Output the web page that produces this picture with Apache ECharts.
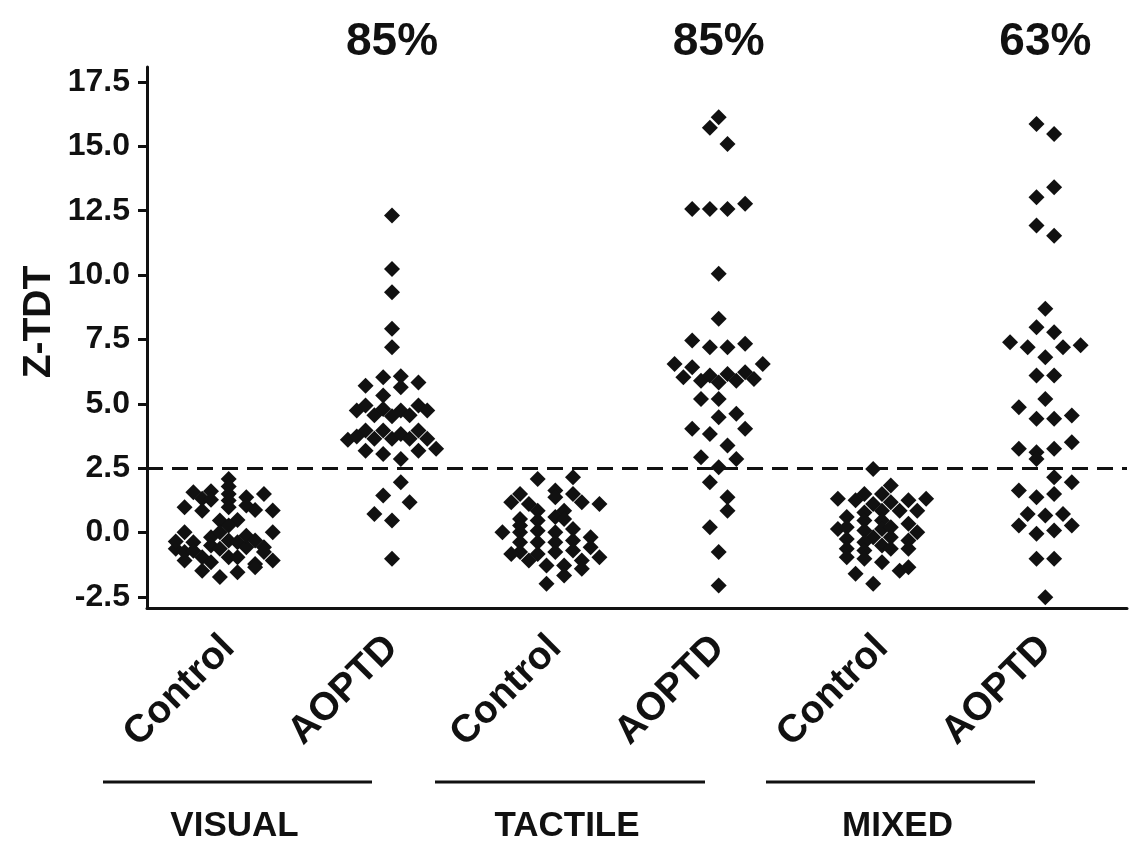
<!DOCTYPE html>
<html>
<head>
<meta charset="utf-8">
<script src="https://cdn.jsdelivr.net/npm/echarts@6/dist/echarts.min.js"></script>
<style>
  html, body { margin: 0; padding: 0; background: #ffffff; }
  #chart { width: 1129px; height: 844px; }
</style>
</head>
<body>
<div id="chart"></div>
<script>
// Z-TDT scores per group; each point is [column slot, value].
// The slot is the point's horizontal place in the dot column (0 = centre).
const categories = ['Control', 'AOPTD', 'Control', 'AOPTD', 'Control', 'AOPTD'];
const groupNames = ['VISUAL', 'TACTILE', 'MIXED'];
const percentLabels = ['85%', '85%', '63%'];
const yTicks = [-2.5, 0, 2.5, 5, 7.5, 10, 12.5, 15, 17.5];
const cutoff = 2.5;

const visualControl = [
  [0, 2.08], [0, 1.79], [0, 1.50], [0, 1.24], [0, 0.98],
  [-4, 1.57], [-2, 1.60], [-3, 1.31], [-2, 1.27], [-5, 0.98], [-3, 0.85],
  [2, 1.37], [4, 1.50], [2, 1.05], [3, 0.88], [5, 0.86],
  [-1, 0.47], [1, 0.49], [0, 0.27],
  [-5, 0.01], [-6, -0.63], [-4, -0.38], [-5, -0.76], [-5, -1.09], [-4, -0.71],
  [-3, -0.96], [-2, -0.18], [-1, 0.01], [-2, -0.50], [-1, -0.63], [0, -0.31],
  [1, -0.38], [2, -0.57], [2, -0.12], [3, -0.31], [4, -0.57], [4, -0.76],
  [5, 0.01], [5, -1.09], [-2, -1.15], [0, -0.96], [1, -0.96], [3, -1.22],
  [-3, -1.48], [-1, -1.73], [1, -1.54], [3, -1.35], [-6, -0.35]
];

const visualAoptd = [
  [0, 12.31], [0, 10.24], [0, 9.33], [0, 7.91], [0, 7.20],
  [-1, 6.03], [1, 6.07], [1, 5.64], [3, 5.83], [-3, 5.70], [-1, 5.32],
  [-4, 4.74], [-3, 4.93], [-2, 4.56], [-1, 4.80], [0, 4.52], [1, 4.74],
  [2, 4.56], [3, 4.93], [4, 4.74],
  [-3, 3.96], [-1, 3.96], [0, 3.64], [1, 3.83], [2, 3.64], [3, 3.96],
  [-5, 3.60], [-4, 3.73], [-2, 3.64], [4, 3.64],
  [-3, 3.18], [-1, 3.05], [3, 3.18], [5, 3.25], [1, 2.86],
  [1, 1.95], [-1, 1.44], [2, 1.18], [-2, 0.72], [0, 0.47], [0, -1.02]
];

const tactileControl = [
  [-2, 2.08], [2, 2.15], [0, 1.63], [0, 1.37], [2, 1.50], [-4, 1.50],
  [-5, 1.18], [-3, 1.11], [-2, 0.85], [1, 0.85], [3, 1.18], [5, 1.11],
  [-4, 0.53], [-2, 0.47], [0, 0.60], [1, 0.53], [2, 0.14], [-4, 0.01],
  [-6, 0.01], [-2, 0.07], [0, 0.01], [4, -0.18], [-4, -0.38], [-2, -0.38],
  [0, -0.38], [2, -0.31], [4, -0.57], [-4, -0.76], [-2, -0.83], [0, -0.76],
  [2, -0.70], [-5, -0.83], [5, -0.96], [-3, -1.09], [-1, -1.28], [1, -1.28],
  [3, -1.09], [3, -1.41], [1, -1.67], [-1, -1.99], [-4, 0.27]
];

const tactileAoptd = [
  [0, 16.13], [-1, 15.72], [1, 15.09],
  [-3, 12.57], [-1, 12.57], [1, 12.57], [3, 12.77],
  [0, 10.05], [0, 8.30],
  [-3, 7.46], [-1, 7.20], [1, 7.20], [3, 7.33],
  [-5, 6.55], [-3, 6.42], [5, 6.55], [-4, 6.03], [-2, 5.90], [-1, 6.10],
  [0, 5.83], [1, 6.16], [2, 5.90], [3, 6.23], [4, 5.96],
  [-2, 5.19], [0, 5.19], [0, 4.48], [2, 4.61], [-3, 4.03], [-1, 3.83],
  [3, 4.03], [1, 3.38], [-2, 2.92], [2, 2.86], [0, 2.54], [-1, 1.95],
  [1, 1.37], [1, 0.85], [-1, 0.21], [0, -0.76], [0, -2.06]
];

const mixedControl = [
  [-1, 2.47], [1, 1.83], [-5, 1.31], [-3, 1.25], [-2, 1.50], [0, 1.50],
  [-1, 1.11], [1, 1.18], [3, 1.25], [5, 1.31], [2, 0.85], [4, 0.85],
  [-2, 0.78], [0, 0.85], [-4, 0.60], [-5, 0.14], [-4, 0.21], [-2, 0.47],
  [-2, 0.08], [0, 0.47], [0, 0.14], [-1, -0.18], [1, 0.21], [1, -0.18],
  [3, 0.34], [4, 0.01], [-4, -0.25], [-2, -0.38], [-4, -0.63], [-2, -0.70],
  [0, -0.50], [1, -0.63], [3, -0.31], [3, -0.63], [-4, -0.96], [-2, -1.02],
  [0, -1.15], [2, -1.48], [3, -1.35], [-3, -1.60], [-1, -1.99]
];

const mixedAoptd = [
  [-1, 15.87], [1, 15.48], [1, 13.41], [-1, 13.02], [-1, 11.92], [1, 11.53],
  [0, 8.69], [-1, 7.97], [1, 7.78], [-4, 7.39], [-2, 7.20], [2, 7.20],
  [4, 7.27], [0, 6.81], [-1, 6.10], [1, 6.10], [0, 5.19], [-3, 4.87],
  [-1, 4.42], [1, 4.42], [3, 4.55], [-3, 3.25], [-1, 3.12], [-1, 2.86],
  [1, 3.25], [3, 3.51], [1, 2.15], [3, 1.95], [-3, 1.63], [-1, 1.37],
  [1, 1.50], [-2, 0.72], [0, 0.66], [2, 0.72], [-3, 0.27], [-1, -0.05],
  [1, 0.08], [3, 0.27], [-1, -1.02], [1, -1.02], [0, -2.51]
];

const groups = [visualControl, visualAoptd, tactileControl, tactileAoptd, mixedControl, mixedAoptd];

// width of one dot column slot, in category units
const slotWidth = 0.054;
const ink = '#111111';
const fontFamily = '"Liberation Sans", Arial, Helvetica, sans-serif';

const points = [];
groups.forEach((g, i) => {
  g.forEach(([slot, v]) => points.push([i + 1 + slot * slotWidth, v]));
});

const topLabels = categories.map((c, i) => (i % 2 === 1 ? percentLabels[(i - 1) / 2] : ''));

const chart = echarts.init(document.getElementById('chart'), null, { renderer: 'canvas' });

// group underlines and names below the category labels
const groupLines = [[103, 372], [435, 705], [766, 1035]];
const graphics = [];
groupLines.forEach(([x1, x2], g) => {
  graphics.push({
    type: 'line',
    shape: { x1: x1, y1: 782, x2: x2, y2: 782 },
    style: { stroke: ink, lineWidth: 3 }
  });
  graphics.push({
    type: 'text',
    x: (x1 + x2) / 2 - 3,
    y: 826,
    style: {
      text: groupNames[g], fill: ink, font: 'bold 35px ' + fontFamily,
      align: 'center', verticalAlign: 'middle'
    }
  });
});
graphics.push({
  type: 'text',
  x: 39,
  y: 322,
  rotation: Math.PI / 2,
  style: {
    text: 'Z-TDT', fill: ink, font: 'bold 39px ' + fontFamily,
    align: 'center', verticalAlign: 'middle'
  }
});

chart.setOption({
  backgroundColor: '#ffffff',
  animation: false,
  grid: { left: 147, right: 2, top: 67, bottom: 236, containLabel: false },
  xAxis: [
    {
      type: 'category',
      data: categories,
      position: 'bottom',
      boundaryGap: true,
      axisLine: { onZero: false, lineStyle: { color: ink, width: 3 } },
      axisTick: { alignWithLabel: true, length: 8, lineStyle: { color: ink, width: 3 } },
      axisLabel: {
        rotate: 45, margin: 34, color: ink, fontSize: 39, fontWeight: 'bold',
        fontFamily: fontFamily, interval: 0
      },
      splitLine: { show: false }
    },
    {
      type: 'value',
      min: 0.5,
      max: 6.5,
      show: false
    },
    {
      type: 'category',
      data: topLabels,
      position: 'top',
      boundaryGap: true,
      axisLine: { show: false, onZero: false },
      axisTick: { show: false },
      axisLabel: {
        margin: 2, color: ink, fontSize: 46, fontWeight: 'bold',
        fontFamily: fontFamily, interval: 0
      },
      splitLine: { show: false }
    }
  ],
  yAxis: {
    type: 'value',
    min: -2.93,
    max: 18.08,
    axisLine: { show: true, onZero: false, lineStyle: { color: ink, width: 3 } },
    axisTick: { show: true, customValues: yTicks, length: 9, lineStyle: { color: ink, width: 3 } },
    axisLabel: {
      customValues: yTicks, margin: 17, color: ink, fontSize: 32, fontWeight: 'bold',
      fontFamily: fontFamily, formatter: v => v.toFixed(1)
    },
    splitLine: { show: false }
  },
  series: [
    {
      type: 'scatter',
      xAxisIndex: 1,
      data: points,
      symbol: 'diamond',
      symbolSize: 16,
      itemStyle: { color: ink, opacity: 1 },
      markLine: {
        silent: true,
        symbol: 'none',
        label: { show: false },
        lineStyle: { color: ink, width: 3, type: [16, 9] },
        data: [{ yAxis: cutoff }]
      }
    }
  ],
  graphic: graphics
});
</script>
</body>
</html>
